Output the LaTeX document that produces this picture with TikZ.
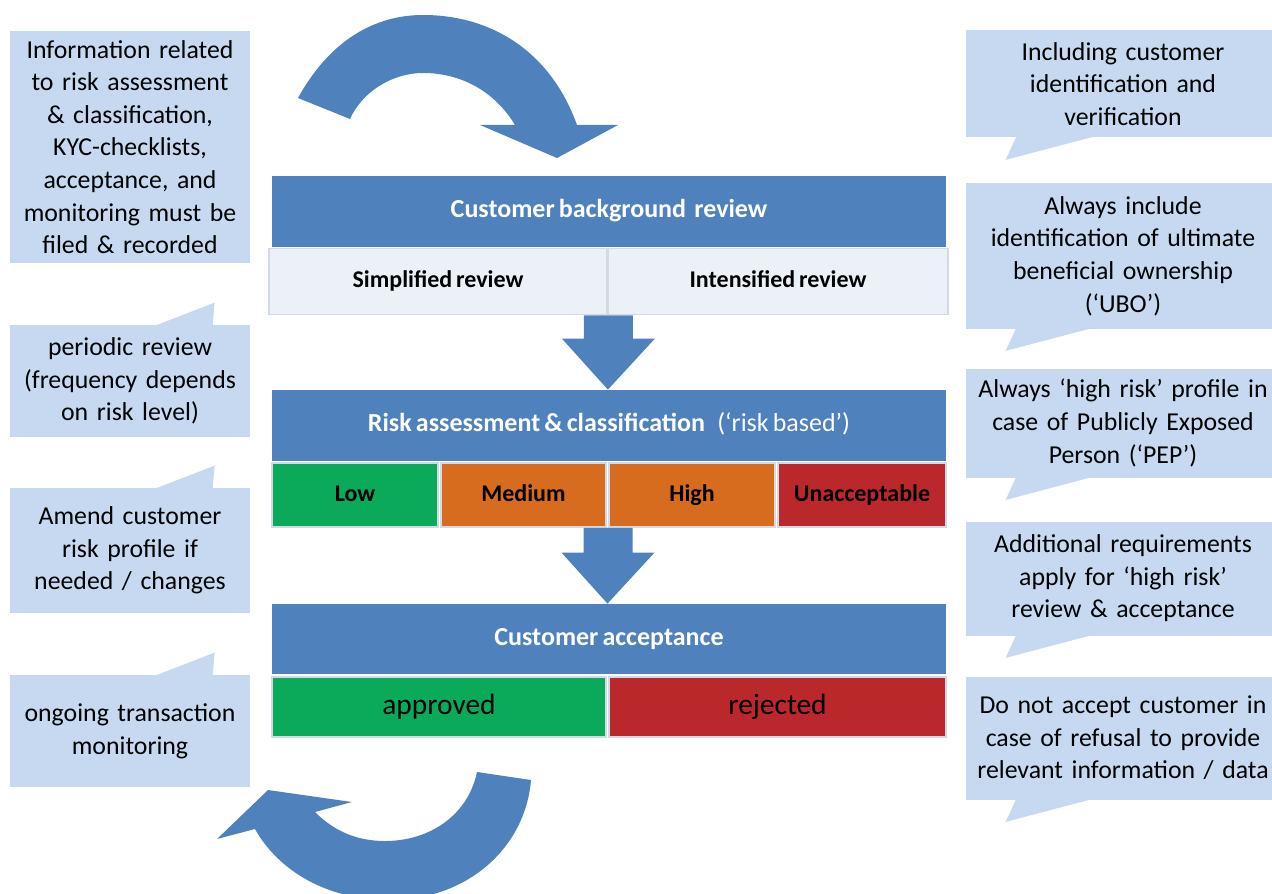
\documentclass[tikz,border=0pt]{standalone}
\usepackage{fontspec}
\setmainfont{Carlito}[WordSpace={0.7,0.5,0.5}]
\usetikzlibrary{calc}

\definecolor{hdrblue}{HTML}{4F81BD}
\definecolor{notefill}{HTML}{C6D9F0}
\definecolor{subfill}{HTML}{ECF1F8}
\definecolor{cellline}{HTML}{D3DAE6}
\definecolor{lowgreen}{HTML}{0BAA5A}
\definecolor{midorange}{HTML}{D76C1E}
\definecolor{unred}{HTML}{BB282B}

% block arrow pointing down from #1 to #2 (same x)
\newcommand\blockdown[2]{%
  \fill[hdrblue] let \p1=(#1), \p2=(#2) in
    (\x1-12pt,\y1) -- (\x1-12pt,\y2+25.5pt) -- (\x1-23pt,\y2+25.5pt) --
    (\x1,\y2) -- (\x1+23.5pt,\y2+25.5pt) -- (\x1+12.5pt,\y2+25.5pt) --
    (\x1+12.5pt,\y1) -- cycle;}

\tikzset{
  header/.style={fill=hdrblue, text=white, font=\bfseries\fontsize{13}{15}\selectfont,
    minimum width=337pt, minimum height=35.5pt, inner sep=0pt,
    text height=9pt, text depth=3pt},
  cell/.style={draw=cellline, line width=0.9pt, font=\bfseries\fontsize{12}{14}\selectfont,
    minimum height=32pt, inner sep=0pt, text height=8.5pt, text depth=2.5pt},
  subcell/.style={cell, fill=subfill, minimum height=33pt},
  bigcell/.style={cell, font=\fontsize{14.7}{17}\selectfont, minimum height=30pt,
    text height=10.5pt, text depth=3pt},
  note/.style={fill=notefill, align=center, font=\fontsize{12.9}{16.3}\selectfont,
    inner sep=0pt},
  leftnote/.style={note, minimum width=120pt, text width=119pt},
  rightnote/.style={note, minimum width=157pt, text width=156pt},
}

\begin{document}
\begin{tikzpicture}[x=0.5pt,y=-0.5pt]
\useasboundingbox (0,0) rectangle (1272,893);
\clip (0,0) rectangle (1272,893);

% ---- central process blocks
\node[header] (bg) at (609,211.5) {Customer background\ \ review};
\node[subcell, minimum width=169pt] (simp) at (438,281.5) {Simplified review};
\node[subcell, minimum width=170pt] (intens) at (778,281.5) {Intensified review};

\node[header] (risk) at (609,425.5) {Risk assessment \& classification\ \ \ \mdseries(‘risk based’)};
\node[cell, fill=lowgreen, minimum width=83pt] (low) at (355,495) {Low};
\node[cell, fill=midorange, minimum width=82.5pt] (med) at (523.5,495) {Medium};
\node[cell, fill=midorange, minimum width=83pt] (high) at (692,495) {High};
\node[cell, fill=unred, minimum width=84pt] (unacc) at (862,495) {Unacceptable};

\node[header, minimum height=35pt] (acc) at (609,639) {Customer acceptance};
\node[bigcell, fill=lowgreen, minimum width=167pt] (appr) at (439,707) {approved};
\node[bigcell, fill=unred, minimum width=168.5pt] (rej) at (777.5,707) {rejected};

% ---- block arrows between stages
\blockdown{simp.south east}{simp.south east |- risk.north}
\coordinate (gap2) at ($(med.south east)!0.5!(high.south west)$);
\blockdown{gap2}{gap2 |- acc.north}

% ---- curved loop arrows
\fill[hdrblue] (298,98) .. controls (330,40) and (375,15) .. (423,15)
  .. controls (490,15) and (550,50) .. (577,125)
  -- (618,125) -- (557,158) -- (480,125) -- (515,125)
  .. controls (495,92) and (462,73) .. (423,73)
  .. controls (392,73) and (362,92) .. (350,119) -- cycle;

\fill[hdrblue] (531,780) .. controls (525,850) and (465,900) .. (390,900)
  .. controls (320,900) and (275,865) .. (255,829)
  -- (217,839) -- (268,790) -- (352,802) -- (315,812)
  .. controls (335,832) and (358,841) .. (385,841)
  .. controls (430,841) and (468,815) .. (477,772) -- cycle;

% ---- notes on the left
\node[leftnote, minimum height=116pt] (n1) at (130,147)
  {Information related\\to risk assessment\\\& classification,\\KYC-checklists,\\acceptance, and\\monitoring must be\\filed \& recorded};
\node[leftnote, minimum height=56pt] (n2) at (130,381)
  {periodic review\\(frequency depends\\on risk level)};
\node[leftnote, minimum height=62.5pt] (n3) at (130,550.5)
  {Amend customer\\risk profile if\\needed / changes};
\node[leftnote, minimum height=56pt] (n4) at (130,731)
  {ongoing transaction\\monitoring};

\foreach \n in {n2,n3,n4}{
  \fill[notefill] ([xshift=71.5pt,yshift=-1pt]\n.north west)
    -- ([xshift=102.5pt,yshift=11pt]\n.north west)
    -- ([xshift=101.5pt,yshift=-1pt]\n.north west) -- cycle;
}

% ---- notes on the right
\node[rightnote, minimum height=53.5pt] (m1) at (1123,84)
  {Including customer\\identification and\\verification};
\node[rightnote, minimum height=72.5pt] (m2) at (1123,256)
  {Always include\\identification of ultimate\\beneficial ownership\\(‘UBO’)};
\node[rightnote, minimum height=54.5pt] (m3) at (1123,423)
  {Always ‘high risk’ profile in\\case of Publicly Exposed\\Person (‘PEP’)};
\node[rightnote, minimum height=57pt] (m4) at (1123,578.5)
  {Additional requirements\\apply for ‘high risk’\\review \& acceptance};
\node[rightnote, minimum height=61.5pt] (m5) at (1123,738)
  {Do not accept customer in\\case of refusal to provide\\relevant information / data};

\foreach \n in {m1,m2,m3,m4,m5}{
  \fill[notefill] ([xshift=25.5pt,yshift=1pt]\n.south west)
    -- ([xshift=20pt,yshift=-11pt]\n.south west)
    -- ([xshift=65.5pt,yshift=1pt]\n.south west) -- cycle;
}
\end{tikzpicture}
\end{document}
